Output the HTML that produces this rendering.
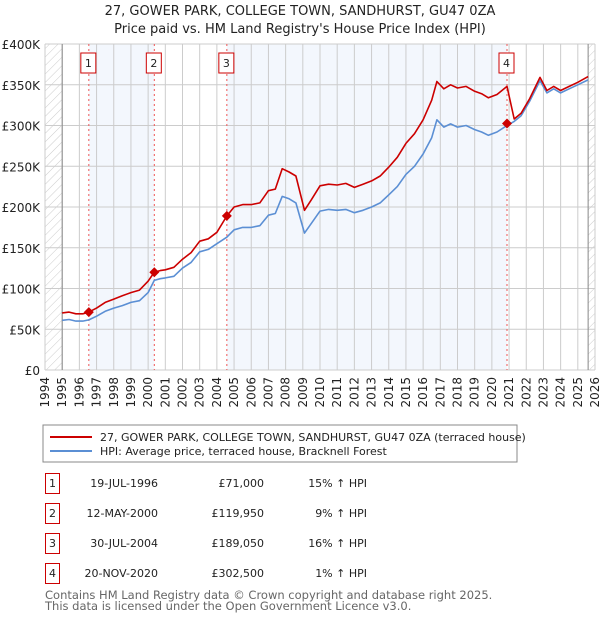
<!DOCTYPE html>
<html><head><meta charset="utf-8"><style>
body{margin:0;background:#fff;}
svg text{font-family:"DejaVu Sans","Liberation Sans",sans-serif;}
</style></head><body>
<svg id="c" width="600" height="620" xmlns="http://www.w3.org/2000/svg">
<defs><pattern id="hatch" width="6" height="6" patternUnits="userSpaceOnUse" patternTransform="rotate(45)"><line x1="0" y1="0" x2="0" y2="6" stroke="#ccc" stroke-width="1"/></pattern></defs>
<text x="300" y="15" font-size="13" text-anchor="middle" fill="#222">27, GOWER PARK, COLLEGE TOWN, SANDHURST, GU47 0ZA</text>
<text x="300" y="33" font-size="13" text-anchor="middle" fill="#222">Price paid vs. HM Land Registry's House Price Index (HPI)</text>
<g id="plot"></g>
<rect x="43" y="425" width="474" height="37" fill="#fff" stroke="#888"/>
<line x1="50" y1="437" x2="92" y2="437" stroke="#cc0000" stroke-width="2"/>
<text x="100" y="441" font-size="11" fill="#222">27, GOWER PARK, COLLEGE TOWN, SANDHURST, GU47 0ZA (terraced house)</text>
<line x1="50" y1="451" x2="92" y2="451" stroke="#5b8fd4" stroke-width="2"/>
<text x="100" y="455" font-size="11" fill="#222">HPI: Average price, terraced house, Bracknell Forest</text>
<g id="table" font-size="11" fill="#222"></g>
<text x="45" y="599" font-size="11.5" fill="#666">Contains HM Land Registry data © Crown copyright and database right 2025.</text>
<text x="45" y="610" font-size="11.5" fill="#666">This data is licensed under the Open Government Licence v3.0.</text>
</svg>
<script>
const hpiYears=[1995,1995.4,1995.8,1996.2,1996.55,1997,1997.5,1998,1998.5,1999,1999.5,2000,2000.36,2000.7,2001,2001.5,2002,2002.5,2003,2003.5,2004,2004.58,2005,2005.5,2006,2006.5,2007,2007.4,2007.8,2008.2,2008.6,2009.1,2009.5,2010,2010.5,2011,2011.5,2012,2012.5,2013,2013.5,2014,2014.5,2015,2015.5,2016,2016.5,2016.8,2017.2,2017.6,2018,2018.5,2019,2019.4,2019.8,2020.3,2020.88,2021.3,2021.7,2022.2,2022.8,2023.2,2023.6,2024,2024.5,2025,2025.6];
const hpiValues=[61,62,60,60,61.5,66,72,76,79,83,85,95,110,112,113,115,125,132,145,148,155,163,172,175,175,177,190,192,213,210,205,168,180,195,197,196,197,193,196,200,205,215,225,240,250,265,285,307,298,302,298,300,295,292,288,292,300,305,312,330,355,340,345,340,345,350,356];
const priceValues=[70,71,69,69,71,76,83,87,91,95,98,109,120,122,123,126,136,144,158,161,169,189,200,203,203,205,220,222,247,243,238,196,209,226,228,227,229,224,228,232,238,249,261,278,290,307,331,354,345,350,346,348,342,339,334,338,348,308,315,333,359,343,348,343,348,353,360];
const saleYears=[1996.55,2000.36,2004.58,2020.88];
const salePrices=[71000,119950,189050,302500];
const saleDates=["19-JUL-1996","12-MAY-2000","30-JUL-2004","20-NOV-2020"];
const saleDiffs=["15% \u2191 HPI","9% \u2191 HPI","16% \u2191 HPI","1% \u2191 HPI"];
const yTicks=[0,50,100,150,200,250,300,350,400];
const yTickLabels=["£0","£50K","£100K","£150K","£200K","£250K","£300K","£350K","£400K"];
const xYears=[1994,1995,1996,1997,1998,1999,2000,2001,2002,2003,2004,2005,2006,2007,2008,2009,2010,2011,2012,2013,2014,2015,2016,2017,2018,2019,2020,2021,2022,2023,2024,2025,2026];

const NS="http://www.w3.org/2000/svg";
const X0=45,X1=595,Y0=370,Y1=44;
const sx=y=>X0+(y-1994)/(2026-1994)*(X1-X0);
const sy=v=>Y0-v/400*(Y0-Y1);
function mk(tag,attrs,parent){const e=document.createElementNS(NS,tag);for(const k in attrs)e.setAttribute(k,attrs[k]);parent.appendChild(e);return e;}
const P=document.getElementById('plot');
let r;
r=mk('rect',{x:X0,y:Y1,width:X1-X0,height:Y0-Y1,fill:'#fff'},P);


[[0,1],[2,3]].forEach(([a,b],i)=>{
 r=mk('rect',{x:sx(saleYears[a]),y:Y1,width:sx(saleYears[b])-sx(saleYears[a]),height:Y0-Y1,fill:'#eef3fc',opacity:0.7},P);
 
 
});
const lastYear=hpiYears[hpiYears.length-1];
r=mk('rect',{x:X0,y:Y1,width:sx(1995)-X0,height:Y0-Y1,fill:'url(#hatch)'},P);


r=mk('rect',{x:sx(lastYear),y:Y1,width:X1-sx(lastYear),height:Y0-Y1,fill:'url(#hatch)'},P);


xYears.forEach(y=>{const l=mk('line',{x1:sx(y),x2:sx(y),y1:Y1,y2:Y0,stroke:'#ccc','stroke-width':1},P);
 
 
 const t=mk('text',{transform:`translate(${sx(y)+4},${Y0+7}) rotate(-90)`,'font-size':12,'text-anchor':'end',fill:'#222'},P);t.textContent=y;
 
 
});
yTicks.forEach((v,i)=>{const l=mk('line',{x1:X0,x2:X1,y1:sy(v),y2:sy(v),stroke:'#ccc','stroke-width':1},P);
 
 
 const t=mk('text',{x:X0-5,y:sy(v)+5,'font-size':12,'text-anchor':'end',fill:'#222'},P);t.textContent=yTickLabels[i];
 
 
});
r=mk('line',{x1:sx(1995),x2:sx(1995),y1:Y1,y2:Y0,stroke:'#888'},P);


r=mk('line',{x1:sx(lastYear),x2:sx(lastYear),y1:Y1,y2:Y0,stroke:'#888'},P);


saleYears.forEach((y,i)=>{
 const l=mk('line',{x1:sx(y),x2:sx(y),y1:Y1,y2:Y0,stroke:'#e55','stroke-width':1,'stroke-dasharray':'2,3'},P);
 
 
 const b=mk('rect',{x:sx(y)-8,y:53,width:15,height:20,fill:'#fff',stroke:'#c00'},P);
 
 
 const t=mk('text',{x:sx(y)-0.5,y:67,'font-size':11,'text-anchor':'middle',fill:'#222'},P);t.textContent=i+1;
 
 
});
const line=(vals,col,name)=>{const d=hpiYears.map((y,i)=>(i?'L':'M')+sx(y).toFixed(1)+','+sy(vals[i]).toFixed(1)).join('');
 const p=mk('path',{d:d,fill:'none',stroke:col,'stroke-width':1.6,'stroke-linejoin':'round'},P);
 
 };
line(hpiValues,'#5b8fd4','hpi-line');
line(priceValues,'#cc0000','price-line');
saleYears.forEach((y,i)=>{const v=salePrices[i]/1000;
 const d=mk('path',{d:`M${sx(y)},${sy(v)-5}L${sx(y)+5},${sy(v)}L${sx(y)},${sy(v)+5}L${sx(y)-5},${sy(v)}Z`,fill:'#cc0000'},P);
 
 
});
const T=document.getElementById('table');
saleDates.forEach((d,i)=>{const cy=483+i*30;
 let e=mk('rect',{x:45.5,y:cy-9.5,width:14,height:20,fill:'#fff',stroke:'#c00'},T);
 
 
 e=mk('text',{x:52.5,y:cy+4,'text-anchor':'middle'},T);e.textContent=i+1;
 
 
 e=mk('text',{x:158,y:cy+4,'text-anchor':'end'},T);e.textContent=d;
 
 
 e=mk('text',{x:264,y:cy+4,'text-anchor':'end'},T);e.textContent='£'+salePrices[i].toLocaleString('en-GB');
 
 
 e=mk('text',{x:367,y:cy+4,'text-anchor':'end'},T);e.textContent=saleDiffs[i];
 
 
});
</script>
</body></html>
